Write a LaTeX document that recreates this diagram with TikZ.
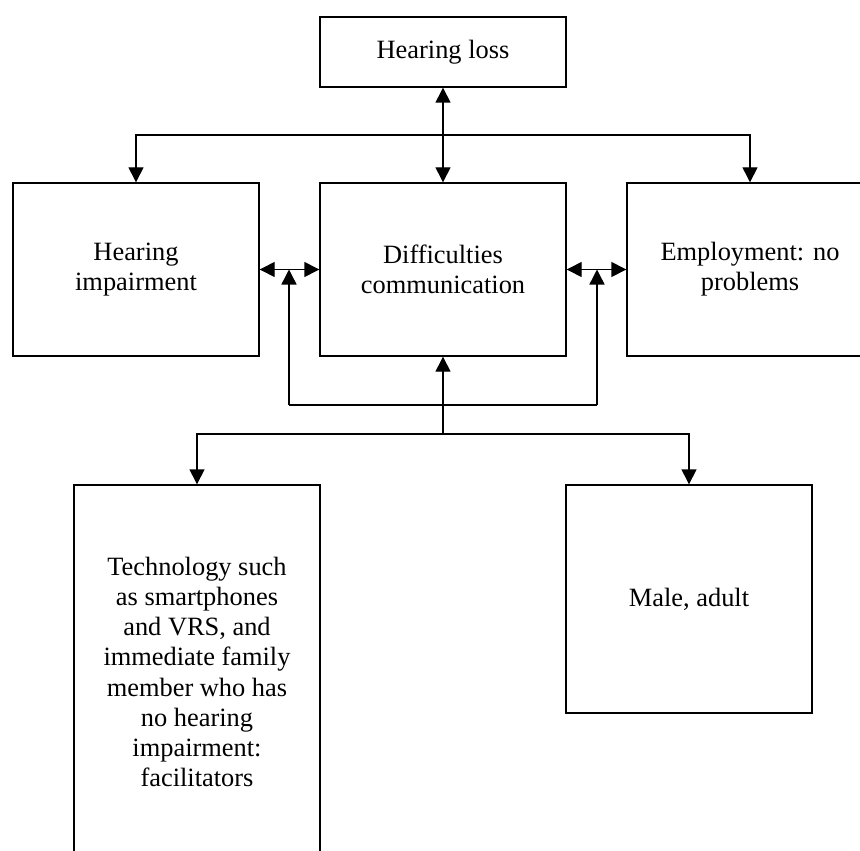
\documentclass[tikz,border=0pt]{standalone}
\usepackage{fontspec}
\setmainfont{Liberation Serif}
\usepackage{tikz}
\usetikzlibrary{arrows.meta}

\tikzset{box/.style={draw, line width=0.7pt, minimum width=123pt, align=center,
                     inner sep=0pt, font=\fontsize{13.2}{15.1}\selectfont},
         arr/.style={line width=0.7pt, -{Triangle[length=7.5pt,width=7.5pt]}},
         dbl/.style={line width=0.7pt, {Triangle[length=7.5pt,width=7.5pt]}-{Triangle[length=7.5pt,width=7.5pt]}}}

\begin{document}
\begin{tikzpicture}[x=0.5pt, y=-0.5pt]
      \useasboundingbox (0, 0) rectangle (860, 850);
      \node (loss)   [box, minimum height=35pt]   at (443, 52)    {Hearing loss};
      \node (impair) [box, minimum height=86.5pt] at (136, 269.5) {Hearing\\impairment};
      \node (comm)   [box, minimum height=86.5pt] at (443, 269.5) {Difficulties\\communication};
      \node (employ) [box, minimum height=86.5pt] at (750, 269.5) {Employment: no\\problems};
      \node (tech)   [box, minimum height=187pt]  at (197, 672)   {Technology such\\as smartphones\\and VRS, and\\immediate family\\member who has\\no hearing\\impairment:\\facilitators};
      \node (male)   [box, minimum height=114pt]  at (689, 599)   {Male, adult};
      \coordinate (top) at (443, 135);
      \coordinate (lm) at (289, 269.5);
      \coordinate (rm) at (597, 269.5);
      \coordinate (lj) at (289, 405);
      \coordinate (rj) at (597, 405);
      \coordinate (bot) at (443, 434);
      \draw[dbl] (loss) -- (comm);
      \draw[arr] (top) -| (impair);
      \draw[arr] (top) -| (employ);
      \draw[dbl] (impair) -- (comm);
      \draw[dbl] (comm) -- (employ);
      \draw[line width=0.7pt] (lj) -- (rj);
      \draw[arr] (lj) -- (lm);
      \draw[arr] (rj) -- (rm);
      \draw[arr] (bot) -- (comm);
      \draw[arr] (bot) -| (tech);
      \draw[arr] (bot) -| (male);
\end{tikzpicture}
\end{document}
